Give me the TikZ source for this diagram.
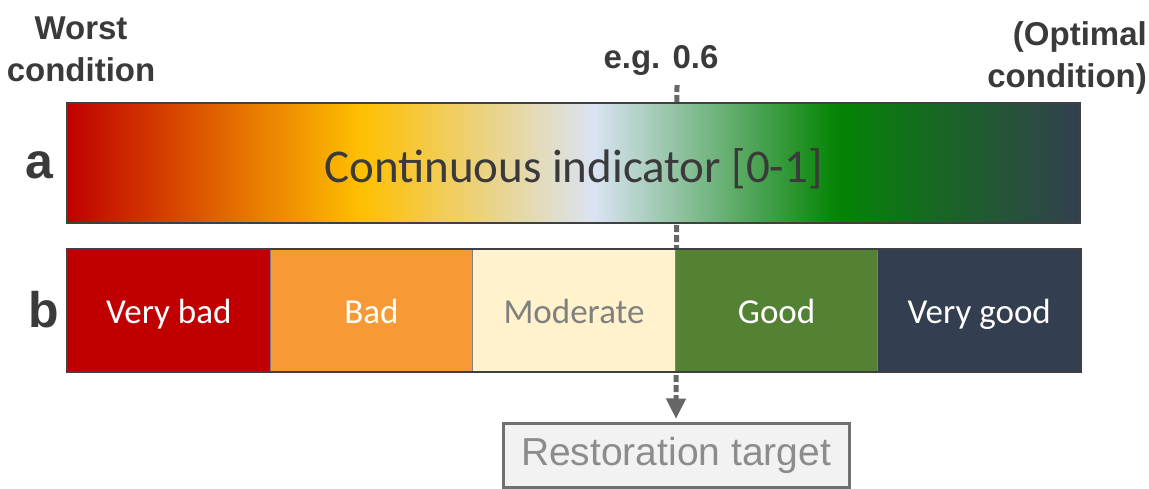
\documentclass[tikz,border=0pt]{standalone}
\usepackage{fontspec}
\setmainfont{Carlito}
\newfontfamily\labelfont{Liberation Sans}
\usetikzlibrary{arrows.meta,positioning}

\definecolor{verybad}{HTML}{C00000}
\definecolor{bad}{HTML}{F79A36}
\definecolor{moderate}{HTML}{FFF2CC}
\definecolor{good}{HTML}{548235}
\definecolor{verygood}{HTML}{333F50}
\definecolor{shadeyellow}{HTML}{FFC000}
\definecolor{shadelight}{HTML}{DAE3F3}
\definecolor{shadegreen}{HTML}{048404}
\definecolor{barframe}{HTML}{404040}
\definecolor{labelgray}{HTML}{3A3A3A}
\definecolor{targetgray}{HTML}{8C8C8C}

\pgfdeclarehorizontalshading{indicatorshade}{100bp}{%
  color(0bp)=(verybad); color(25bp)=(verybad);
  color(39.5bp)=(shadeyellow);
  color(51bp)=(shadelight);
  color(63bp)=(shadegreen);
  color(75bp)=(verygood); color(100bp)=(verygood)}

\tikzset{
  sidelabel/.style={font=\labelfont\bfseries\fontsize{33}{42}\selectfont, text=labelgray, inner sep=0pt},
  rowlabel/.style={font=\labelfont\bfseries\fontsize{50}{60}\selectfont, text=labelgray, inner sep=0pt},
  segbox/.style={draw=gray, line width=1pt, minimum width=202.6pt, minimum height=122pt,
    anchor=north west, inner sep=0pt, text height=33pt, text depth=7pt,
    font=\fontsize{35}{42}\selectfont},
  markline/.style={draw=black!60, line width=5pt, dash pattern=on 7pt off 3pt,
    -{Triangle[width=20pt,length=20pt,fill=black!60,line width=1pt]}},
}

\begin{document}
\begin{tikzpicture}[x=1pt,y=-1pt]
  \useasboundingbox (0,0) rectangle (1149,488);

  % target and the marker line behind the bars
  \node[draw=targetgray!80!black, line width=3pt, fill=black!5, minimum width=346pt,
    minimum height=64pt, inner sep=0pt, text=targetgray,
    font=\labelfont\fontsize{39}{45}\selectfont] (target) at (676,455) {Restoration target};
  \coordinate (mark) at (677,85);
  \draw[markline, shorten >=3pt] (mark) -- (target.north);

  % a: continuous bar
  \node[draw=barframe, line width=2pt, shading=indicatorshade, minimum width=1013pt,
    minimum height=120pt, inner sep=0pt, text=labelgray, text height=38pt, text depth=0pt,
    font=\fontsize{47}{52}\selectfont] (cont) at (573.5,163) {Continuous indicator [0-1]};

  % b: classes
  \foreach \txt/\col/\tc [count=\i] in {Very bad/verybad/white, Bad/bad/white,
      Moderate/moderate/black!50, Good/good/white, Very good/verygood/white}
    \node[segbox, fill=\col, text=\tc] (seg\i) at ({67+202.6*(\i-1)},249) {\txt};
  \draw[barframe, line width=2pt] (seg1.north west) rectangle (seg5.south east);

  \node[rowlabel] (la) at (39,165) {a};
  \node[rowlabel] (lb) at (44,310) {b};

  \node[sidelabel, align=center] (worst) at (81,49) {Worst\\condition};
  \node[sidelabel, align=right, anchor=east] (optimal) at (1147,58) {(Optimal\\condition)};
  \node[sidelabel] (eg) at (661,60) {e.g. 0.6};
\end{tikzpicture}
\end{document}
